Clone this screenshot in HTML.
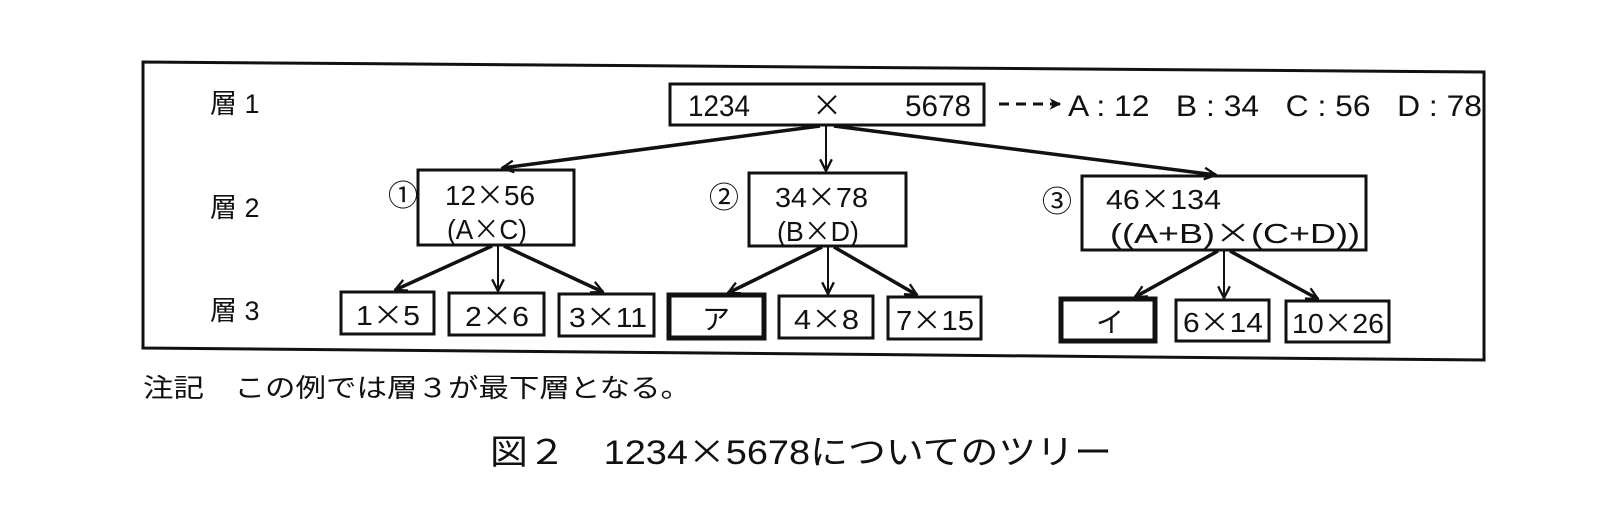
<!DOCTYPE html>
<html><head><meta charset="utf-8"><style>
html,body{margin:0;padding:0;background:#fff;}
svg{display:block;}
text{font-family:"Liberation Sans","Noto Sans CJK JP",sans-serif;fill:#111;}
.x{font-family:"Noto Sans CJK JP",sans-serif;}
</style></head><body>
<svg width="1620" height="508" viewBox="0 0 1620 508" xmlns="http://www.w3.org/2000/svg">
<defs>
<marker id="ah" viewBox="0 0 12 12" refX="11" refY="6" markerWidth="14" markerHeight="14" markerUnits="userSpaceOnUse" orient="auto">
<path d="M1,1 L11,6 L1,11" fill="none" stroke="#111" stroke-width="2"/>
</marker>
<marker id="ah2" viewBox="0 0 12 12" refX="10" refY="6" markerWidth="14" markerHeight="14" markerUnits="userSpaceOnUse" orient="auto">
<path d="M1,1 L11,6 L1,11 L4,6 Z" fill="#111"/>
</marker>
</defs>
<polygon points="143,62 1484,72 1484,360 143,348" fill="none" stroke="#111" stroke-width="3"/>
<text x="210" y="113" font-size="27">層 1</text>
<text x="210" y="217" font-size="27">層 2</text>
<text x="210" y="320" font-size="27">層 3</text>
<rect x="670" y="84" width="314" height="41" fill="none" stroke="#111" stroke-width="3"/>
<text x="688" y="116" font-size="30" textLength="62" lengthAdjust="spacingAndGlyphs">1234</text>
<text x="812" y="116" font-size="30" class="x">×</text>
<text x="905" y="116" font-size="30" textLength="66" lengthAdjust="spacingAndGlyphs">5678</text>
<line x1="999" y1="104" x2="1060" y2="104" stroke="#111" stroke-width="3" stroke-dasharray="10,7" marker-end="url(#ah2)"/>
<text x="1068" y="116" font-size="30" textLength="414" lengthAdjust="spacingAndGlyphs" xml:space="preserve">A : 12   B : 34   C : 56   D : 78</text>
<g stroke="#111" stroke-width="3.5" fill="none">
<line x1="820" y1="126" x2="502" y2="168" marker-end="url(#ah)"/>
<line x1="826" y1="126" x2="826" y2="171" stroke-width="2" marker-end="url(#ah)"/>
<line x1="834" y1="126" x2="1216" y2="175" marker-end="url(#ah)"/>
</g>
<g font-size="28">
<rect x="418" y="170" width="156" height="75" fill="none" stroke="#111" stroke-width="3"/>
<text x="388" y="206" font-size="30" class="x">①</text>
<text x="445" y="205" textLength="90" lengthAdjust="spacingAndGlyphs">12<tspan class="x">×</tspan>56</text>
<text x="447" y="239" textLength="80" lengthAdjust="spacingAndGlyphs">(A<tspan class="x">×</tspan>C)</text>
<rect x="749" y="173" width="157" height="73" fill="none" stroke="#111" stroke-width="3"/>
<text x="709" y="208" font-size="30" class="x">②</text>
<text x="775" y="207" textLength="93" lengthAdjust="spacingAndGlyphs">34<tspan class="x">×</tspan>78</text>
<text x="777" y="241" textLength="82" lengthAdjust="spacingAndGlyphs">(B<tspan class="x">×</tspan>D)</text>
<rect x="1082" y="176" width="284" height="74" fill="none" stroke="#111" stroke-width="3"/>
<text x="1042" y="212" font-size="30" class="x">③</text>
<text x="1106" y="209" textLength="115" lengthAdjust="spacingAndGlyphs">46<tspan class="x">×</tspan>134</text>
<text x="1110" y="243" textLength="250" lengthAdjust="spacingAndGlyphs">((A+B)<tspan class="x">×</tspan>(C+D))</text>
</g>
<g stroke="#111" stroke-width="3.5" fill="none">
<line x1="492" y1="246" x2="395" y2="290" marker-end="url(#ah)"/>
<line x1="498" y1="246" x2="498" y2="291" stroke-width="2" marker-end="url(#ah)"/>
<line x1="504" y1="246" x2="603" y2="292" marker-end="url(#ah)"/>
<line x1="822" y1="247" x2="728" y2="293" marker-end="url(#ah)"/>
<line x1="828" y1="247" x2="828" y2="294" stroke-width="2" marker-end="url(#ah)"/>
<line x1="834" y1="247" x2="917" y2="295" marker-end="url(#ah)"/>
<line x1="1218" y1="251" x2="1135" y2="297" marker-end="url(#ah)"/>
<line x1="1224" y1="251" x2="1224" y2="298" stroke-width="2" marker-end="url(#ah)"/>
<line x1="1230" y1="251" x2="1318" y2="299" marker-end="url(#ah)"/>
</g>
<g fill="none" stroke="#111" stroke-width="3">
<rect x="341" y="292" width="93" height="42"/>
<rect x="449" y="293" width="95" height="42"/>
<rect x="559" y="294" width="95" height="42"/>
<rect x="669" y="295" width="95" height="43" stroke-width="5"/>
<rect x="779" y="296" width="94" height="42"/>
<rect x="888" y="297" width="93" height="42"/>
<rect x="1061" y="299" width="94" height="42" stroke-width="5"/>
<rect x="1176" y="300" width="93" height="41"/>
<rect x="1286" y="301" width="103" height="41"/>
</g>
<g font-size="28">
<text x="356" y="325" textLength="64" lengthAdjust="spacingAndGlyphs">1<tspan class="x">×</tspan>5</text>
<text x="465" y="326" textLength="64" lengthAdjust="spacingAndGlyphs">2<tspan class="x">×</tspan>6</text>
<text x="569" y="327" textLength="78" lengthAdjust="spacingAndGlyphs">3<tspan class="x">×</tspan>11</text>
<text x="702" y="329">ア</text>
<text x="794" y="329" textLength="65" lengthAdjust="spacingAndGlyphs">4<tspan class="x">×</tspan>8</text>
<text x="896" y="330" textLength="78" lengthAdjust="spacingAndGlyphs">7<tspan class="x">×</tspan>15</text>
<text x="1096" y="332">イ</text>
<text x="1183" y="332" textLength="80" lengthAdjust="spacingAndGlyphs">6<tspan class="x">×</tspan>14</text>
<text x="1292" y="333" textLength="92" lengthAdjust="spacingAndGlyphs">10<tspan class="x">×</tspan>26</text>
</g>
<text x="143" y="397" font-size="26" textLength="548" lengthAdjust="spacingAndGlyphs">注記　この例では層３が最下層となる。</text>
<text x="490" y="464" font-size="34" textLength="622" lengthAdjust="spacingAndGlyphs">図２　1234<tspan class="x">×</tspan>5678についてのツリー</text>
</svg>
</body></html>
